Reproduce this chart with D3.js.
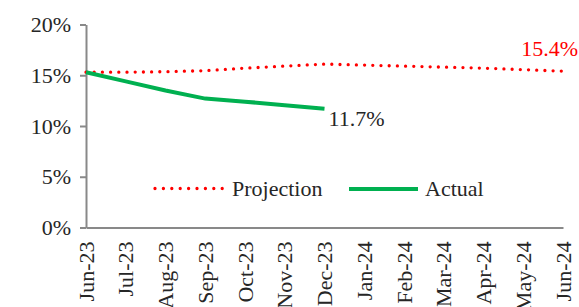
<!DOCTYPE html>
<html>
<head>
  <meta charset="utf-8">
  <script src="https://cdn.jsdelivr.net/npm/d3@7"></script>
  <style>
    body { margin: 0; background: #fff; }
    text { font-family: "Liberation Serif", "DejaVu Serif", serif; fill: #262626; }
  </style>
</head>
<body>
<script>
  // data
  const months = ["Jun-23", "Jul-23", "Aug-23", "Sep-23", "Oct-23", "Nov-23", "Dec-23",
    "Jan-24", "Feb-24", "Mar-24", "Apr-24", "May-24", "Jun-24"];
  const projection = [15.3, 15.3, 15.35, 15.45, 15.7, 15.9, 16.1, 16.0, 15.9, 15.8, 15.7, 15.55, 15.4];
  const actualMonths = ["Jun-23", "Jul-23", "Aug-23", "Sep-23", "Oct-23", "Nov-23", "Dec-23"];
  const actual = [15.3, 14.4, 13.5, 12.7, 12.4, 12.05, 11.7];
  const yTicks = [0, 5, 10, 15, 20];

  const w = 579, h = 307;

  const svg = d3.select("body").append("svg")
    .attr("width", w)
    .attr("height", h);

  const x = d3.scalePoint().domain(months).range([86, 563]);
  const y = d3.scaleLinear().domain([0, 20]).range([227.5, 24.5]);

  // y axis
  const yAxis = svg.append("g")
    .attr("transform", "translate(86,0)")
    .call(d3.axisLeft(y).tickValues(yTicks).tickFormat(d => d + "%").tickSize(6).tickSizeOuter(0).tickPadding(9));
  yAxis.selectAll("path, line").attr("stroke", "#898989").attr("stroke-width", 2);
  yAxis.selectAll("text").style("font-size", "22px").attr("fill", "#262626");

  // x axis
  const xAxis = svg.append("g")
    .attr("transform", "translate(0,227.5)")
    .call(d3.axisBottom(x).tickSize(0).tickSizeOuter(0));
  xAxis.select(".domain").attr("stroke", "#898989").attr("stroke-width", 2);
  xAxis.selectAll("text")
    .style("font-size", "22px")
    .attr("fill", "#262626")
    .attr("text-anchor", "end")
    .attr("transform", "rotate(-90)")
    .attr("x", -14)
    .attr("y", 0)
    .attr("dy", "0.32em");

  const line = d3.line().x(d => x(d[0])).y(d => y(d[1]));

  // projection (dotted red)
  svg.append("path")
    .datum(months.map((m, i) => [m, projection[i]]))
    .attr("d", line)
    .attr("fill", "none")
    .attr("stroke", "#FF0000")
    .attr("stroke-width", 3.3)
    .attr("stroke-linecap", "round")
    .attr("stroke-dasharray", "0 8.2");

  // actual (green)
  svg.append("path")
    .datum(actualMonths.map((m, i) => [m, actual[i]]))
    .attr("d", line)
    .attr("fill", "none")
    .attr("stroke", "#00B050")
    .attr("stroke-width", 4);

  // end labels
  svg.append("text")
    .attr("x", 578).attr("y", 56)
    .attr("text-anchor", "end")
    .style("font-size", "22px")
    .attr("fill", "#FF0000")
    .style("fill", "#FF0000")
    .text(projection[projection.length - 1].toFixed(1) + "%");

  svg.append("text")
    .attr("x", x("Dec-23") + 4).attr("y", 126)
    .style("font-size", "22px")
    .text(actual[actual.length - 1].toFixed(1) + "%");

  // legend
  const legend = svg.append("g");
  legend.append("line")
    .attr("x1", 155).attr("x2", 224).attr("y1", 188.5).attr("y2", 188.5)
    .attr("stroke", "#FF0000").attr("stroke-width", 3.3)
    .attr("stroke-linecap", "round").attr("stroke-dasharray", "0 8.4");
  legend.append("text").attr("x", 232).attr("y", 196).style("font-size", "22px").text("Projection");
  legend.append("line")
    .attr("x1", 349).attr("x2", 418).attr("y1", 189).attr("y2", 189)
    .attr("stroke", "#00B050").attr("stroke-width", 4);
  legend.append("text").attr("x", 425).attr("y", 196).style("font-size", "22px").text("Actual");
</script>
</body>
</html>
